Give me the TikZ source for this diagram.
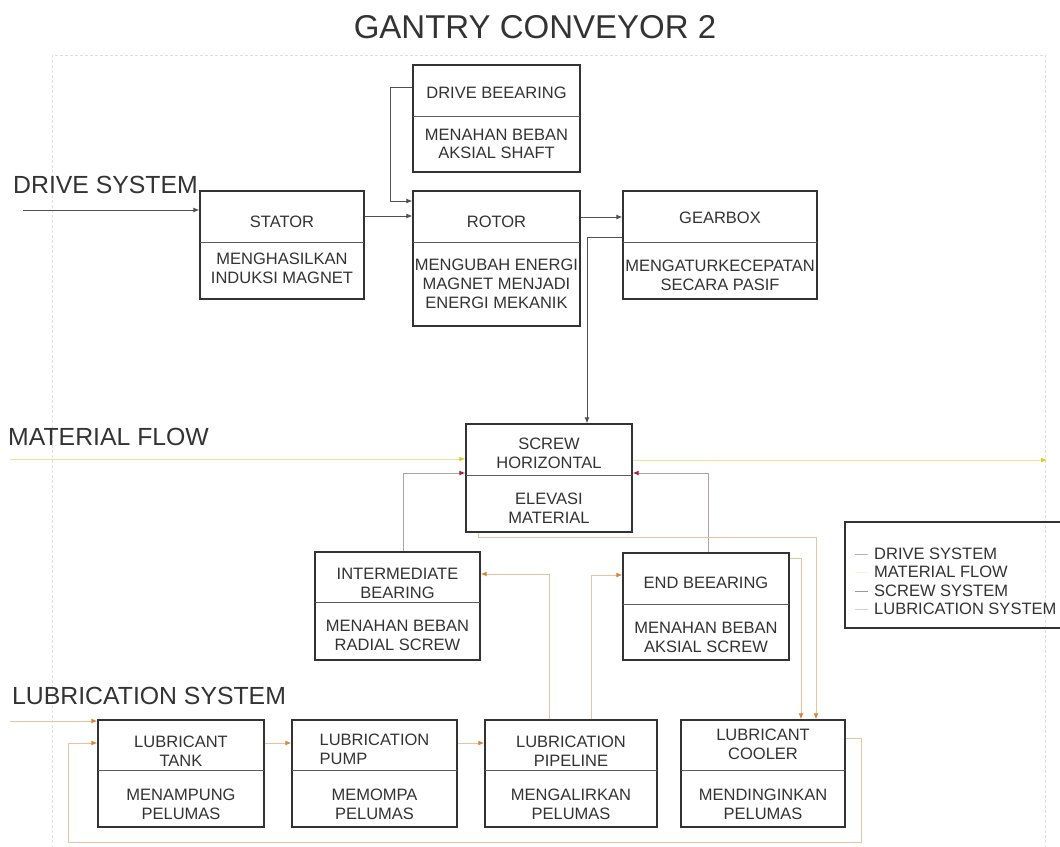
\documentclass[tikz,border=0pt]{standalone}
\usepackage{fontspec}
\setmainfont{Liberation Sans}
\usetikzlibrary{arrows.meta}
\definecolor{ink}{HTML}{333333}
\definecolor{drive}{HTML}{505050}
\definecolor{matl}{HTML}{E8E890}
\definecolor{matarrow}{HTML}{D8D020}
\definecolor{screwl}{HTML}{B8A0A0}
\definecolor{screwa}{HTML}{B02040}
\definecolor{lubl}{HTML}{EBC29E}
\definecolor{luba}{HTML}{D98540}
\tikzset{
 box/.style={draw=ink, line width=1.4pt, inner sep=0pt},
 divline/.style={draw=ink!80, line width=0.8pt},
 txt/.style={text=ink, font=\fontsize{16.5}{18.8}\selectfont, align=center, inner sep=0pt},
 legtxt/.style={text=ink, font=\fontsize{16.5}{18.5}\selectfont, anchor=west, inner sep=0pt},
 drivearrow/.style={draw=drive, line width=0.9pt, -{Latex[length=6pt,width=5pt]}},
 matarr/.style={draw=matl, line width=1pt, -{Latex[length=6pt,width=5pt,color=matarrow]}},
 screwarr/.style={draw=screwl, line width=1pt, -{Latex[length=6pt,width=5pt,color=screwa]}},
 lubarr/.style={draw=lubl, line width=1pt, -{Latex[length=6pt,width=5pt,color=luba]}},
 lbl/.style={text=ink, font=\fontsize{24.8}{28}\selectfont, anchor=base west, inner sep=0pt},
}
\def\tsh{5}\def\bsh{5}
\newcommand\blk[8]{%
 \pgfmathsetmacro\bkw{#4-#2}\pgfmathsetmacro\bkh{#5-#3}%
 \pgfmathsetmacro\bkcx{(#2+#4)/2}\pgfmathsetmacro\bkcy{(#3+#5)/2}%
 \pgfmathsetmacro\bktcy{(#3+#6)/2+\tsh}\pgfmathsetmacro\bklcy{(#6+#5)/2+\bsh}%
 \node[box, minimum width=\bkw pt, minimum height=\bkh pt] (#1) at (\bkcx,\bkcy) {};
 \draw[divline] (#2,#6) -- (#4,#6);
 \node[txt] (#1-t) at (\bkcx,\bktcy) {#7};
 \node[txt] (#1-b) at (\bkcx,\bklcy) {#8};
}
\begin{document}
\begin{tikzpicture}[x=1pt,y=-1pt]
\useasboundingbox (0,0) rectangle (1060,846);
\fill[white] (0,0) rectangle (1060,846);
\draw[gray!25, densely dashed, line width=1pt] (52,55) rectangle (1045,850);

\node[text=ink, font=\fontsize{33}{38}\selectfont, inner sep=0pt] (title) at (535,27) {GANTRY CONVEYOR 2};
\node[lbl] (lds) at (13,193) {DRIVE SYSTEM};
\node[lbl] (lmf) at (8,445) {MATERIAL FLOW};
\node[lbl] (lls) at (12,704) {LUBRICATION SYSTEM};

\def\tsh{2}\def\bsh{0}
\blk{bearing}{413}{65}{580}{172}{116}{DRIVE BEEARING}{MENAHAN BEBAN\\AKSIAL SHAFT}
\def\tsh{5}\def\bsh{-2}
\blk{stator}{200}{191}{364}{299}{242}{STATOR}{MENGHASILKAN\\INDUKSI MAGNET}
\def\tsh{5}\def\bsh{0}
\blk{rotor}{413}{191}{580}{326}{242}{ROTOR}{MENGUBAH ENERGI\\MAGNET MENJADI\\ENERGI MEKANIK}
\def\tsh{1}\def\bsh{5}
\blk{gearbox}{623}{191}{817}{299}{242}{GEARBOX}{MENGATURKECEPATAN\\SECARA PASIF}
\def\tsh{4}\def\bsh{5}
\blk{screw}{466}{424}{632}{532}{475}{SCREW\\HORIZONTAL}{ELEVASI\\MATERIAL}
\def\tsh{6}\def\bsh{4}
\blk{inter}{315}{552}{480}{660}{602}{INTERMEDIATE\\BEARING}{MENAHAN BEBAN\\RADIAL SCREW}
\def\tsh{4}\def\bsh{5}
\blk{endb}{623}{553}{789}{660}{604}{END BEEARING}{MENAHAN BEBAN\\AKSIAL SCREW}
\def\tsh{6}\def\bsh{6}
\blk{tank}{98}{720}{264}{827}{770}{LUBRICANT\\TANK}{MENAMPUNG\\PELUMAS}
\blk{pump}{292}{720}{457}{827}{770}{\begin{tabular}{@{}l@{}}LUBRICATION\\PUMP\end{tabular}}{MEMOMPA\\PELUMAS}
\blk{pipe}{485}{720}{657}{827}{770}{LUBRICATION\\PIPELINE}{MENGALIRKAN\\PELUMAS}
\def\tsh{-1}\def\bsh{6}
\blk{cooler}{681}{720}{845}{827}{770}{LUBRICANT\\COOLER}{MENDINGINKAN\\PELUMAS}

% legend
\node[box, minimum width=225pt, minimum height=106pt] (legend) at (957.5,575) {};
\node[legtxt] (lg1) at (874,554) {DRIVE SYSTEM};
\node[legtxt] (lg2) at (874,572) {MATERIAL FLOW};
\node[legtxt] (lg3) at (874,591) {SCREW SYSTEM};
\node[legtxt] (lg4) at (874,609) {LUBRICATION SYSTEM};
\draw[gray!60, line width=1pt] (lg1.west) ++(-19,0) -- ++(13,0);
\draw[orange!15, line width=1pt] (lg2.west) ++(-19,0) -- ++(13,0);
\draw[gray!80, line width=1pt] (lg3.west) ++(-19,0) -- ++(13,0);
\draw[gray!35, line width=1pt] (lg4.west) ++(-19,0) -- ++(13,0);

% drive system
\coordinate (dsin) at (23,210);
\draw[drivearrow] (dsin) -- (stator.west |- 0,210);
\draw[drivearrow] (stator.east |- 0,216) -- (rotor.west |- 0,216);
\draw[drivearrow] (bearing.west |- 0,87) -- (390,87) -- (390,201) -- (rotor.west |- 0,201);
\draw[drivearrow] (rotor.east |- 0,217) -- (gearbox.west |- 0,217);
\draw[drivearrow] (gearbox.west |- 0,237) -- (587,237) -- (screw.north -| 587,0);

% material flow
\coordinate (mfin) at (10,459);
\coordinate (mfout) at (1047,460);
\draw[matarr] (mfin) -- (screw.west |- 0,459);
\draw[matarr] (screw.east |- 0,460) -- (mfout);

% screw system
\draw[screwarr] (inter.north -| 403,0) -- (403,473) -- (screw.west |- 0,473);
\draw[screwarr] (endb.north -| 708,0) -- (708,473) -- (screw.east |- 0,473);

% lubrication system
\coordinate (lsin) at (10,721);
\draw[lubarr] (lsin) -- (tank.west |- 0,721);
\draw[lubarr] (tank.east |- 0,743) -- (pump.west |- 0,743);
\draw[lubarr] (pump.east |- 0,743) -- (pipe.west |- 0,743);
\draw[lubarr] (pipe.north -| 549,0) -- (549,574) -- (inter.east |- 0,574);
\draw[lubarr] (pipe.north -| 591,0) -- (591,575) -- (endb.west |- 0,575);
\draw[lubarr] (endb.east |- 0,558) -- (801,558) -- (cooler.north -| 801,0);
\draw[lubarr] (screw.south -| 478,0) -- (478,537) -- (816,537) -- (cooler.north -| 816,0);
\draw[lubarr] (cooler.east |- 0,738) -- (861,738) -- (861,842) -- (68,842) -- (68,743) -- (tank.west |- 0,743);
\end{tikzpicture}
\end{document}
